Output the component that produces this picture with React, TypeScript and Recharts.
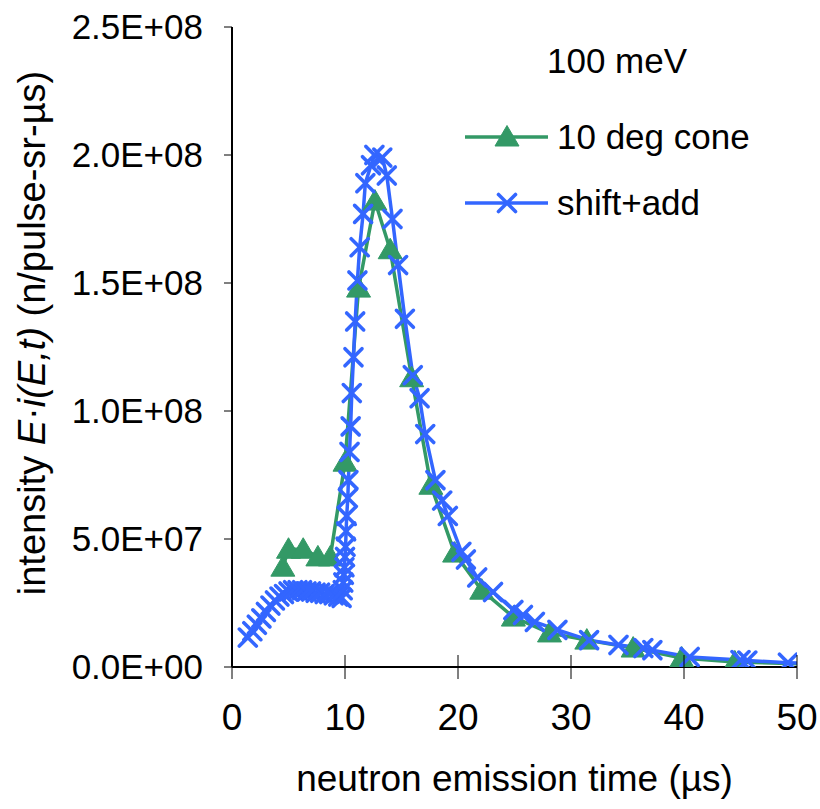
import React from 'react';
import { LineChart, Line, XAxis, YAxis, Legend } from 'recharts';

// ---- data ----
const coneTimes = [4.5, 5.0, 6.3, 7.6, 8.7, 10.0, 11.2, 12.65, 14.0, 15.9, 17.6, 19.7, 22.1, 24.9, 28.1, 31.4, 35.5, 39.8, 44.5, 55];
const coneValues = [3.9e7, 4.6e7, 4.6e7, 4.3e7, 4.3e7, 8.0e7, 1.48e8, 1.82e8, 1.63e8, 1.13e8, 7.1e7, 4.45e7, 3.0e7, 1.95e7, 1.33e7, 1.05e7, 7.4e6, 3.5e6, 2.0e6, 0.6e6];

const shiftTimes = [1.4, 1.8, 2.2, 2.6, 3.0, 3.4, 3.8, 4.2, 4.6, 5.0, 5.4, 5.8, 6.2, 6.6, 7.0, 7.4, 7.8, 8.2, 8.6, 9.0, 9.4, 9.7, 9.8, 9.85, 9.9, 9.95, 10.0, 10.05, 10.1, 10.15, 10.25, 10.3, 10.4, 10.5, 10.6, 10.75, 10.9, 11.1, 11.3, 11.6, 11.8, 12.3, 12.6, 13.3, 13.7, 14.2, 14.7, 15.3, 16.0, 16.6, 17.1, 18.0, 18.6, 19.1, 20.3, 20.7, 21.7, 23.1, 24.9, 25.75, 26.8, 28.8, 31.6, 34.2, 36.4, 37.2, 40.5, 45.0, 45.6, 49.2, 55];
const shiftValues = [1.15e7, 1.4e7, 1.65e7, 1.9e7, 2.15e7, 2.4e7, 2.6e7, 2.75e7, 2.85e7, 2.95e7, 3.0e7, 3.0e7, 3.0e7, 2.95e7, 2.95e7, 2.9e7, 2.9e7, 2.85e7, 2.85e7, 2.8e7, 2.75e7, 2.7e7, 3.0e7, 3.3e7, 3.6e7, 3.9e7, 4.3e7, 4.7e7, 5.3e7, 5.9e7, 6.6e7, 7.3e7, 8.4e7, 9.4e7, 1.07e8, 1.21e8, 1.35e8, 1.51e8, 1.64e8, 1.77e8, 1.89e8, 1.96e8, 2.0e8, 1.99e8, 1.92e8, 1.75e8, 1.57e8, 1.36e8, 1.14e8, 1.05e8, 9.1e7, 7.3e7, 6.5e7, 5.9e7, 4.5e7, 4.2e7, 3.5e7, 2.93e7, 2.23e7, 2.03e7, 1.76e7, 1.45e7, 1.05e7, 8.6e6, 7.4e6, 6.6e6, 3.9e6, 2.7e6, 2.5e6, 1.7e6, 0.8e6];

const xTicks = [0, 10, 20, 30, 40, 50];
const yTicks = [0, 5e7, 1e8, 1.5e8, 2e8, 2.5e8];
const seriesNames = ['10 deg cone', 'shift+add'];
const energyLabel = '100 meV';
const xTitle = 'neutron emission time (\u00b5s)';

// ---- styles ----
const GREEN = '#339966';
const BLUE = '#3366FF';
const FONT = '"Liberation Sans", Arial, sans-serif';
const Y_TICK_FS = 35;
const X_TICK_FS = 37;
const X_TICK_SIZE = 12;
const X_TICK_MARGIN = 38;

const coneData = coneTimes.map((t, i) => ({ t, v: coneValues[i] }));
const shiftData = shiftTimes.map((t, i) => ({ t, v: shiftValues[i] }));

function fmtSci(v: number): string {
  if (v === 0) return '0.0E+00';
  const e = Math.floor(Math.log10(v) + 1e-9);
  const m = v / Math.pow(10, e);
  return `${m.toFixed(1)}E+${String(e).padStart(2, '0')}`;
}

const triPoints = (cx: number, cy: number) => `${cx},${cy - 11.5} ${cx - 12},${cy + 9} ${cx + 12},${cy + 9}`;

const renderTriangle = (props: any) => {
  const { cx, cy, index } = props;
  if (cx == null || cy == null) return <g key={`t-${index}`} />;
  return <polygon key={`t-${index}`} points={triPoints(cx, cy)} fill={GREEN} stroke={GREEN} strokeWidth={1} strokeLinejoin="round" />;
};

const Cross = ({ cx, cy, s = 8.5 }: { cx: number; cy: number; s?: number }) => (
  <g stroke={BLUE} strokeWidth={3.6} strokeLinecap="round">
    <line x1={cx - s} y1={cy - s} x2={cx + s} y2={cy + s} />
    <line x1={cx - s} y1={cy + s} x2={cx + s} y2={cy - s} />
  </g>
);

const renderCross = (props: any) => {
  const { cx, cy, index } = props;
  if (cx == null || cy == null) return <g key={`c-${index}`} />;
  return <g key={`c-${index}`}><Cross cx={cx} cy={cy} /></g>;
};

const XTick = (props: any) => {
  const { x, y, payload } = props;
  const axisY = y - X_TICK_SIZE - X_TICK_MARGIN;
  return (
    <g>
      <line x1={x} x2={x} y1={axisY - X_TICK_SIZE} y2={axisY} stroke="#000" strokeWidth={1} />
      <text x={x} y={y} dy="0.355em" textAnchor="middle" fontSize={X_TICK_FS} fontFamily={FONT} fill="#000">
        {payload.value}
      </text>
    </g>
  );
};

const YTick = (props: any) => {
  const { x, y, payload } = props;
  return (
    <text x={x} y={y} dy="0.355em" textAnchor="end" fontSize={Y_TICK_FS} fontFamily={FONT} fill="#000">
      {fmtSci(payload.value)}
    </text>
  );
};

const renderYTitle = () => (
  <text
    x={32}
    y={333}
    transform="rotate(-90, 32, 333)"
    textAnchor="middle"
    dy="0.355em"
    fontSize={38}
    fontFamily={FONT}
    fill="#000"
  >
    intensity <tspan fontStyle="italic">E</tspan>{'\u00b7'}<tspan fontStyle="italic">i(E,t)</tspan>{'  (n/pulse-sr-\u00b5s)'}
  </text>
);

const renderXTitle = (props: any) => {
  const vb = props.viewBox || { x: 232, y: 667, width: 565 };
  return (
    <text x={vb.x + vb.width / 2} y={vb.y + 111} dy="0.355em" textAnchor="middle" fontSize={37} fontFamily={FONT} fill="#000">
      {xTitle}
    </text>
  );
};

const LegendBox = () => (
  <svg width={380} height={220} style={{ display: 'block', overflow: 'visible' }}>
    <text x={179} y={33} dy="0.355em" textAnchor="middle" fontSize={35} fontFamily={FONT} fill="#000">
      {energyLabel}
    </text>
    <line x1={27} x2={110} y1={109} y2={109} stroke={GREEN} strokeWidth={3.5} />
    <polygon points={triPoints(69, 109)} fill={GREEN} stroke={GREEN} strokeWidth={1} />
    <text x={119} y={109} dy="0.355em" fontSize={35} fontFamily={FONT} fill="#000">
      {seriesNames[0]}
    </text>
    <line x1={27} x2={110} y1={175} y2={175} stroke={BLUE} strokeWidth={3.5} />
    <Cross cx={69} cy={175} />
    <text x={119} y={175} dy="0.355em" fontSize={35} fontFamily={FONT} fill="#000">
      {seriesNames[1]}
    </text>
  </svg>
);

export default function App() {
  return (
    <div style={{ position: 'absolute', left: 0, top: 0, width: 820, height: 809, background: '#fff' }}>
      <LineChart width={820} height={809} margin={{ top: 27, right: 23, left: 0, bottom: 0 }}>
        <XAxis
          type="number"
          dataKey="t"
          domain={[0, 50]}
          ticks={xTicks}
          allowDataOverflow
          height={142}
          axisLine={{ stroke: '#000', strokeWidth: 2 }}
          tickLine={{ stroke: '#000', strokeWidth: 1 }}
          tickSize={X_TICK_SIZE}
          tickMargin={X_TICK_MARGIN}
          tick={<XTick />}
          label={{ content: renderXTitle }}
        />
        <XAxis
          xAxisId="top"
          orientation="top"
          type="number"
          dataKey="t"
          domain={[0, 50]}
          height={0}
          tick={false}
          tickLine={false}
          axisLine={{ stroke: '#8c8c8c', strokeWidth: 3 }}
        />
        <YAxis
          type="number"
          domain={[0, 2.5e8]}
          ticks={yTicks}
          allowDataOverflow
          width={232}
          axisLine={{ stroke: '#000', strokeWidth: 2 }}
          tickLine={{ stroke: '#000', strokeWidth: 1 }}
          tickSize={8}
          tickMargin={21}
          tick={<YTick />}
          label={{ content: renderYTitle }}
        />
        <YAxis
          yAxisId="right"
          orientation="right"
          type="number"
          domain={[0, 2.5e8]}
          width={0}
          tick={false}
          tickLine={false}
          axisLine={{ stroke: '#8c8c8c', strokeWidth: 3 }}
        />
        <Legend
          layout="horizontal"
          verticalAlign="middle"
          align="center"
          wrapperStyle={{ left: 438, top: 28, width: 380, height: 220 }}
          content={() => <LegendBox />}
        />
        <Line
          data={coneData}
          dataKey="v"
          name={seriesNames[0]}
          type="linear"
          stroke={GREEN}
          strokeWidth={3.5}
          dot={renderTriangle}
          activeDot={false}
          isAnimationActive={false}
        />
        <Line
          data={shiftData}
          dataKey="v"
          name={seriesNames[1]}
          type="linear"
          stroke={BLUE}
          strokeWidth={3.5}
          dot={renderCross}
          activeDot={false}
          isAnimationActive={false}
        />
      </LineChart>
    </div>
  );
}
